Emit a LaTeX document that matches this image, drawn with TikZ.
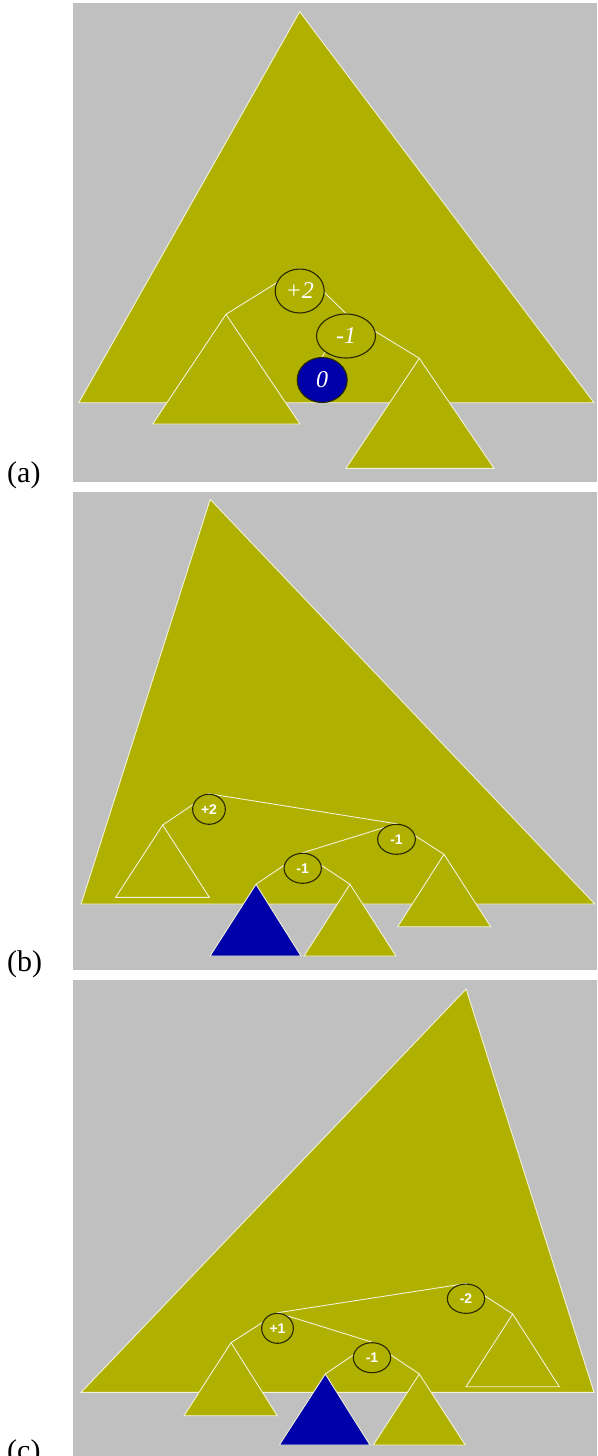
\documentclass[tikz,border=0pt]{standalone}
\usepackage{fontspec}
\setmainfont{Liberation Serif}
\newfontfamily\balfont{Liberation Sans}
\usetikzlibrary{shapes.geometric}

\definecolor{bggray}{RGB}{192,192,192}
\definecolor{treeolive}{RGB}{176,176,0}
\definecolor{holeblue}{RGB}{0,0,170}
\definecolor{edgewhite}{RGB}{242,242,214}
\definecolor{ringdark}{RGB}{40,40,0}

\pgfdeclarelayer{back}
\pgfsetlayers{back,main}

\begin{document}
\begin{tikzpicture}[
  x=1pt, y=-1pt,
  panel/.style={fill=bggray, draw=none},
  tree/.style={fill=treeolive, draw=edgewhite, line width=0.9pt},
  hole/.style={fill=holeblue, draw=edgewhite, line width=0.9pt},
  link/.style={draw=edgewhite, line width=0.9pt},
  bal/.style={
    ellipse, draw=ringdark, fill=treeolive,
    line width=1.1pt, inner sep=0pt, text=white
  },
  balA/.style={bal, font=\fontsize{24}{24}\selectfont\itshape},
  balB/.style={bal, font=\balfont\bfseries\fontsize{14}{14}\selectfont},
  tag/.style={anchor=base west, inner sep=0pt, font=\fontsize{30}{30}\selectfont},
]

  \useasboundingbox (0,0) rectangle (597,1456);

  % -------------------------------------------------------
  %  (a)  insertion below the -1 node
  % -------------------------------------------------------
  \begin{pgfonlayer}{back}
    \fill[panel] (73,3) rectangle (597,482);
    \draw[tree] (299.7,11.7) -- (78.8,402.7) -- (594,402.7) -- cycle;
    \coordinate (aL) at (226,314.3);
    \coordinate (aR) at (419.3,358.3);
    \draw[tree] (aL) -- ++(-73.3,109.7) -- ++(147.3,0) -- cycle;
    \draw[tree] (aR) -- ++(-73.3,110) -- ++(148,0) -- cycle;
  \end{pgfonlayer}

  \node[balA, minimum width=49pt, minimum height=44pt] (a2) at (299.7,291) {+2};
  \node[balA, minimum width=59pt, minimum height=44pt] (a1) at (346,336) {-1};
  \node[balA, fill=holeblue, minimum width=50pt, minimum height=45pt] (a0) at (322.2,380) {0};

  \begin{pgfonlayer}{back}
    \draw[link] (a2.north) -- (aL);
    \draw[link] (a2.north) -- (a1.north);
    \draw[link] (a1.north) -- (aR);
    \draw[link] (a1.north) -- (a0.north);
  \end{pgfonlayer}

  \node[tag] (tagA) at (7,482) {(a)};

  % -------------------------------------------------------
  %  (b)
  % -------------------------------------------------------
  \begin{pgfonlayer}{back}
    \fill[panel] (73,492) rectangle (597,970);
    \draw[tree] (210.2,499.3) -- (81.1,904) -- (594.8,904) -- cycle;
    \coordinate (bL) at (162.7,825);
    \coordinate (bH) at (256,884.3);
    \coordinate (bM) at (350,884.3);
    \coordinate (bR) at (444,854.3);
    \draw[tree] (bL) -- ++(-47,72.3) -- ++(93.6,0) -- cycle;
    \draw[hole] (bH) -- ++(-46,71.7) -- ++(91,0) -- cycle;
    \draw[tree] (bM) -- ++(-46,71.7) -- ++(92,0) -- cycle;
    \draw[tree] (bR) -- ++(-46.3,72.4) -- ++(93,0) -- cycle;
  \end{pgfonlayer}

  \node[balB, minimum width=32.7pt, minimum height=30pt] (b2) at (209,809.3) {+2};
  \node[balB, minimum width=37.7pt, minimum height=30pt] (b1r) at (396.5,839.3) {-1};
  \node[balB, minimum width=37.3pt, minimum height=30pt] (b1l) at (302.7,868.3) {-1};

  \begin{pgfonlayer}{back}
    \draw[link] (b2.north) -- (bL);
    \draw[link] (b2.north) -- (b1r.north);
    \draw[link] (b1r.north) -- (b1l.north);
    \draw[link] (b1r.north) -- (bR);
    \draw[link] (b1l.north) -- (bH);
    \draw[link] (b1l.north) -- (bM);
  \end{pgfonlayer}

  \node[tag] (tagB) at (7,971) {(b)};

  % -------------------------------------------------------
  %  (c)
  % -------------------------------------------------------
  \begin{pgfonlayer}{back}
    \fill[panel] (73,980) rectangle (597,1456);
    \draw[tree] (466.1,989) -- (81.1,1392.3) -- (594,1392.3) -- cycle;
    \coordinate (cL) at (231,1342.7);
    \coordinate (cH) at (325.3,1374);
    \coordinate (cM) at (419.3,1374);
    \coordinate (cR) at (512.7,1314);
    \draw[tree] (cL) -- ++(-47,73) -- ++(93.3,0) -- cycle;
    \draw[hole] (cH) -- ++(-46,71) -- ++(90.7,0) -- cycle;
    \draw[tree] (cM) -- ++(-46,71) -- ++(92,0) -- cycle;
    \draw[tree] (cR) -- ++(-46.7,72.7) -- ++(93.3,0) -- cycle;
  \end{pgfonlayer}

  \node[balB, minimum width=31.7pt, minimum height=30pt] (c1p) at (277.5,1328.3) {+1};
  \node[balB, minimum width=37.3pt, minimum height=29.3pt] (c2) at (466,1298.7) {-2};
  \node[balB, minimum width=37.3pt, minimum height=30pt] (c1m) at (372,1357.7) {-1};

  \begin{pgfonlayer}{back}
    \draw[link] (c2.north) -- (c1p.north);
    \draw[link] (c2.north) -- (cR);
    \draw[link] (c1p.north) -- (cL);
    \draw[link] (c1p.north) -- (c1m.north);
    \draw[link] (c1m.north) -- (cH);
    \draw[link] (c1m.north) -- (cM);
  \end{pgfonlayer}

  \node[tag] (tagC) at (7,1460) {(c)};

\end{tikzpicture}
\end{document}
